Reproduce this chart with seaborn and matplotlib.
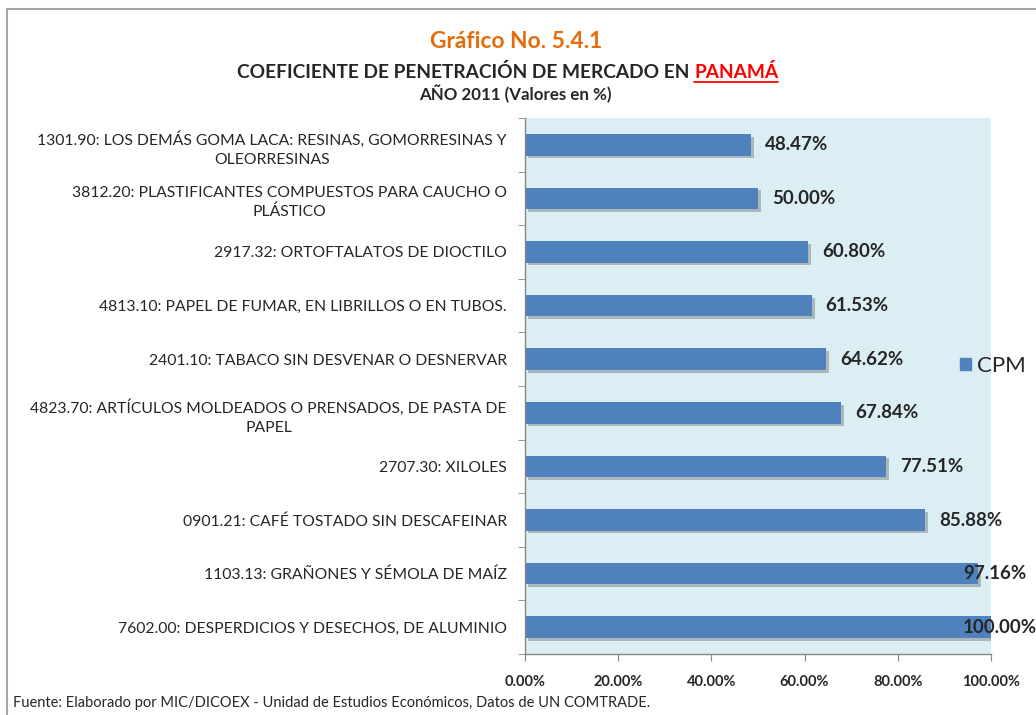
import matplotlib
matplotlib.use('Agg')
import matplotlib.pyplot as plt
import matplotlib.patheffects as pe
from matplotlib.lines import Line2D
from matplotlib.patches import Patch
from matplotlib.ticker import FixedLocator
import pandas as pd
import seaborn as sns

# datos del grafico
productos = [
    '1301.90: LOS DEMÁS GOMA LACA: RESINAS, GOMORRESINAS Y\nOLEORRESINAS',
    '3812.20: PLASTIFICANTES COMPUESTOS PARA CAUCHO O\nPLÁSTICO',
    '2917.32: ORTOFTALATOS DE DIOCTILO',
    '4813.10: PAPEL DE FUMAR, EN LIBRILLOS O EN TUBOS.',
    '2401.10: TABACO SIN DESVENAR O DESNERVAR',
    '4823.70: ARTÍCULOS MOLDEADOS O PRENSADOS, DE PASTA DE\nPAPEL',
    '2707.30: XILOLES',
    '0901.21: CAFÉ TOSTADO SIN DESCAFEINAR',
    '1103.13: GRAÑONES Y SÉMOLA DE MAÍZ',
    '7602.00: DESPERDICIOS Y DESECHOS, DE ALUMINIO',
]
cpm = [48.47, 50.00, 60.80, 61.53, 64.62, 67.84, 77.51, 85.88, 97.16, 100.00]
x_ticks = [0, 20, 40, 60, 80, 100]

sns.set_style('white')
plt.rcParams['font.family'] = ['Lato', 'DejaVu Sans']

W, H = 1036, 715
def px(x, y):
    return x / W, 1 - y / H

azul = '#4F81BD'
gris = '#868686'

df = pd.DataFrame({'producto': productos, 'CPM': cpm})

fig = plt.figure(figsize=(W / 100, H / 100), dpi=100)
ax = fig.add_axes([525 / W, 1 - 654 / H, (991 - 525) / W, (654 - 118) / H])
ax.set_facecolor('#DAEEF3')

sns.barplot(data=df, x='CPM', y='producto', color=azul, saturation=1,
            width=0.4, linewidth=0, ax=ax)
for bar in ax.patches:
    bar.set_edgecolor('none')
    bar.set_path_effects([pe.SimplePatchShadow(offset=(2, -2), shadow_rgbFace='#555555', alpha=0.35),
                          pe.Normal()])

ax.set_xlim(0, 100)
ax.set_ylim(len(productos) - 0.5, -0.5)
ax.set_xlabel('')
ax.set_ylabel('')

for s in ['top', 'right']:
    ax.spines[s].set_visible(False)
for s in ['left', 'bottom']:
    ax.spines[s].set_color(gris)
    ax.spines[s].set_linewidth(1)

ax.set_xticks(x_ticks)
ax.set_xticklabels([f'{t:.2f}%' for t in x_ticks], fontweight='bold', fontsize=10.5)
ax.tick_params(axis='x', direction='out', length=5, color=gris, pad=10, bottom=True)

ax.set_yticks(range(len(productos)))
ax.set_yticklabels(productos, fontsize=11.3, linespacing=1.45, multialignment='center')
ax.yaxis.set_minor_locator(FixedLocator([i - 0.5 for i in range(len(productos) + 1)]))
ax.tick_params(axis='y', which='major', length=0, pad=13)
ax.tick_params(axis='y', which='minor', direction='out', length=5, color=gris, left=True)

for i, v in enumerate(cpm):
    ax.text(min(v + 3, 94.0), i, f'{v:.2f}%', va='center', ha='left',
            fontweight='bold', fontsize=13.5, clip_on=False)

ax.legend(handles=[Patch(color=azul, label='CPM')], loc='center left',
          bbox_to_anchor=px(960, 366), bbox_transform=fig.transFigure,
          frameon=False, fontsize=16, handlelength=0.5, handleheight=0.5,
          handletextpad=0.25, borderaxespad=0, borderpad=0)

# titulos
fig.text(*px(516, 41), 'Gráfico No. 5.4.1', color='#E46C0A', fontweight='bold',
         fontsize=16.4, ha='center', va='center')
t_negro = fig.text(*px(689, 72), 'COEFICIENTE DE PENETRACIÓN DE MERCADO EN',
                   fontweight='bold', fontsize=13.8, ha='right', va='center')
t_rojo = fig.text(*px(694, 72), 'PANAMÁ', color='red', fontweight='bold',
                  fontsize=13.8, ha='left', va='center')
fig.text(*px(515, 94), 'AÑO 2011 (Valores en %)', fontweight='bold',
         fontsize=12.2, ha='center', va='center')
fig.text(*px(13, 703), 'Fuente: Elaborado por MIC/DICOEX - Unidad de Estudios Económicos, Datos de UN COMTRADE.',
         fontsize=10.5, ha='left', va='center')

# subrayado de PANAMÁ y marco
fig.canvas.draw()
bb = t_rojo.get_window_extent()
fig.add_artist(Line2D([bb.x0 / W, bb.x1 / W], [(bb.y0 - 1) / H] * 2, color='red', lw=1.3,
                      transform=fig.transFigure))
fig.add_artist(Line2D([7 / W, 1], [1 - 9 / H] * 2, color='#A6A6A6', lw=1.5,
                      transform=fig.transFigure))
fig.add_artist(Line2D([7 / W, 7 / W], [0, 1 - 9 / H], color='#A6A6A6', lw=1.5,
                      transform=fig.transFigure))

fig.savefig('out.png', dpi=100)
